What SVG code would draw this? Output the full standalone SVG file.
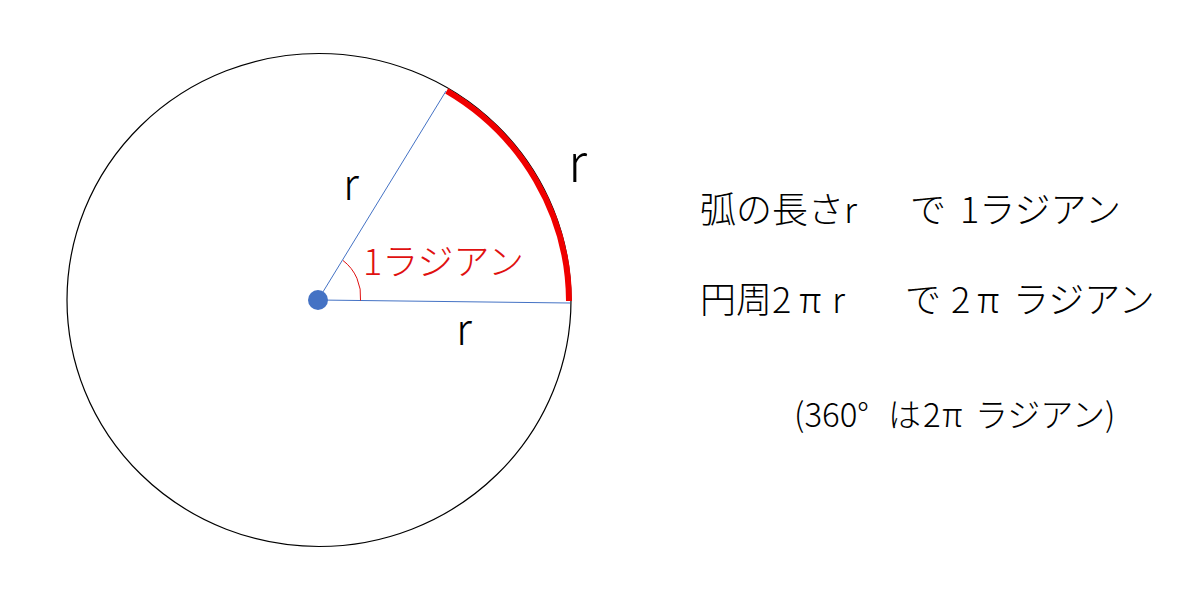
<svg xmlns="http://www.w3.org/2000/svg" width="1203" height="603" viewBox="0 0 1203 603">
<style>
text{font-family:"Noto Sans CJK JP","Noto Sans",sans-serif;fill:#000;font-weight:300}
.lbl{font-size:36px}
.sm{font-size:33px}
.red{fill:#E01010}
.radius{stroke:#4472C4;stroke-width:1;fill:none}
</style>
<rect width="1203" height="603" fill="#fff"/>
<g id="circle">
<ellipse cx="319" cy="300" rx="252" ry="246.5" fill="none" stroke="#000" stroke-width="1.2"/>
</g>
<g id="arc">
<path d="M446.7,90.8 A252,246.5 0 0 1 569,301" fill="none" stroke="#F00000" stroke-width="6"/>
</g>
<g id="connectors">
<line class="radius" x1="318" y1="300" x2="446" y2="91"/>
<line class="radius" x1="318" y1="300" x2="570" y2="303"/>
</g>
<g id="angle">
<path d="M343,260.5 A45,45 0 0 1 360.5,300.5" fill="none" stroke="#E01010" stroke-width="1"/>
</g>
<g id="center">
<circle cx="318" cy="300" r="10" fill="#4472C4"/>
</g>
<g id="labels">
<text x="343" y="200" style="font-size:44px">r</text>
<text x="456" y="345" style="font-size:44px">r</text>
<text x="568" y="182" style="font-size:53px">r</text>
<text class="red" x="363" y="275" style="font-size:36px">1ラジアン</text>
</g>
<g id="text1">
<text class="lbl" y="223"><tspan x="700">弧の長さr</tspan><tspan x="910">で</tspan><tspan x="960">1ラジアン</tspan></text>
</g>
<g id="text2">
<text class="lbl" y="313"><tspan x="700">円周2</tspan><tspan x="799">π</tspan><tspan x="832">r</tspan><tspan x="905">で</tspan><tspan x="951">2</tspan><tspan x="977">π</tspan><tspan x="1013">ラジアン</tspan></text>
</g>
<g id="text3">
<text class="sm" y="427"><tspan x="794">(360°</tspan><tspan x="888">は</tspan><tspan x="923">2</tspan><tspan x="942">π</tspan><tspan x="975">ラジアン)</tspan></text>
</g>
</svg>
